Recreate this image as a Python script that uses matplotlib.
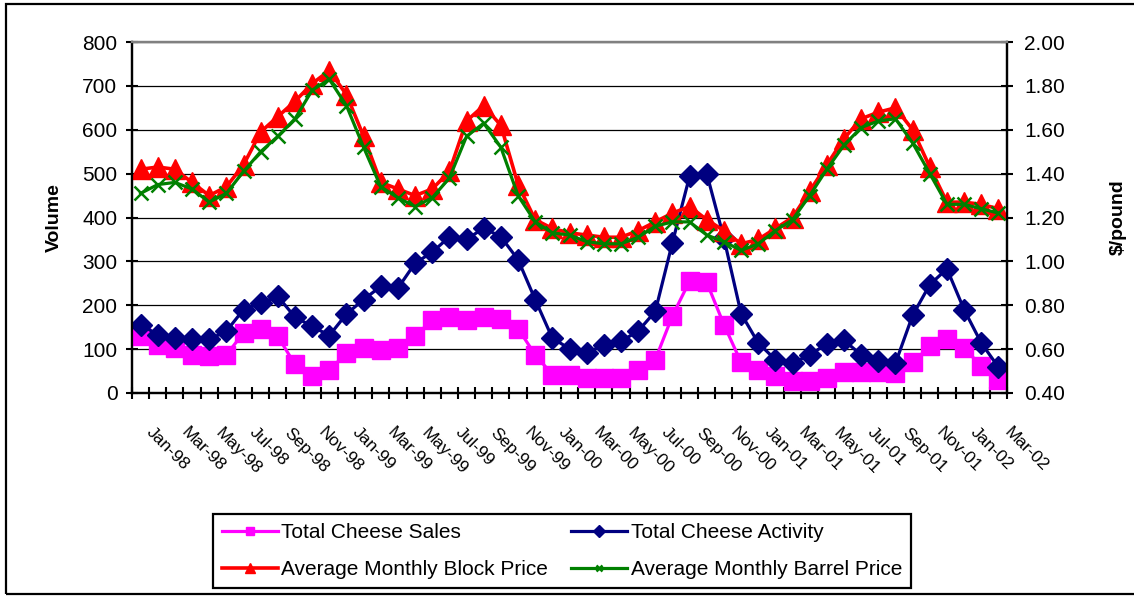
import numpy as np
import matplotlib
matplotlib.use("Agg")
import matplotlib.pyplot as plt
import matplotlib.transforms as mtransforms
from matplotlib.patches import Rectangle

plt.rcParams['font.family'] = ['Liberation Sans', 'DejaVu Sans']

# monthly data, Jan-98 .. Mar-02
tick_labels = ['Jan-98', 'Mar-98', 'May-98', 'Jul-98', 'Sep-98', 'Nov-98',
               'Jan-99', 'Mar-99', 'May-99', 'Jul-99', 'Sep-99', 'Nov-99',
               'Jan-00', 'Mar-00', 'May-00', 'Jul-00', 'Sep-00', 'Nov-00',
               'Jan-01', 'Mar-01', 'May-01', 'Jul-01', 'Sep-01', 'Nov-01',
               'Jan-02', 'Mar-02']

total_sales = [131, 110, 103, 87, 84, 87, 137, 147, 129, 65,
               38, 52, 91, 103, 97, 103, 129, 167, 173, 167,
               173, 169, 147, 87, 42, 42, 34, 34, 34, 53,
               76, 176, 255, 252, 156, 70, 53, 38, 27, 27,
               34, 47, 47, 49, 46, 70, 106, 123, 103, 61, 30]

total_activity = [156, 133, 125, 122, 122, 141, 190, 205, 220, 173,
                  152, 131, 180, 213, 243, 239, 296, 321, 356, 350,
                  376, 356, 304, 213, 125, 101, 91, 110, 118, 141,
                  186, 343, 494, 500, 353, 181, 114, 76, 68, 87,
                  112, 120, 87, 72, 68, 177, 247, 283, 190, 114, 59]

block_price = [1.42, 1.43, 1.42, 1.36, 1.30, 1.34, 1.44, 1.59, 1.66, 1.73,
               1.81, 1.87, 1.76, 1.57, 1.36, 1.33, 1.30, 1.33, 1.41, 1.64,
               1.71, 1.62, 1.35, 1.19, 1.15, 1.13, 1.12, 1.11, 1.11, 1.14,
               1.18, 1.22, 1.25, 1.19, 1.14, 1.08, 1.10, 1.15, 1.20, 1.32,
               1.44, 1.56, 1.65, 1.68, 1.70, 1.60, 1.43, 1.27, 1.27, 1.26, 1.24]

barrel_price = [1.31, 1.35, 1.36, 1.33, 1.27, 1.31, 1.41, 1.50, 1.57, 1.65,
                1.78, 1.83, 1.71, 1.52, 1.34, 1.29, 1.25, 1.29, 1.38, 1.57,
                1.63, 1.52, 1.30, 1.18, 1.13, 1.12, 1.09, 1.08, 1.08, 1.11,
                1.16, 1.18, 1.18, 1.12, 1.09, 1.05, 1.08, 1.14, 1.19, 1.30,
                1.42, 1.53, 1.61, 1.64, 1.65, 1.54, 1.40, 1.26, 1.26, 1.24, 1.22]

x = np.arange(len(total_sales))

fig = plt.figure(figsize=(11.34, 5.98), dpi=100)
ax = fig.add_axes([132/1134, 1 - 393/598, 875/1134, 351/598])
ax2 = ax.twinx()

# volume series
ax.plot(x, total_sales, color='#FF00FF', lw=2.3, marker='s', ms=12.5,
        mec='#FF00FF', mfc='#FF00FF', label='Total Cheese Sales', zorder=3)
ax.plot(x, total_activity, color='#000080', lw=2.3, marker='D', ms=11.5,
        mec='#000080', mfc='#000080', label='Total Cheese Activity', zorder=4)

# price series on secondary axis
ax2.plot(x, block_price, color='#FF0000', lw=2.6, marker='^', ms=15,
         mec='#FF0000', mfc='#FF0000', label='Average Monthly Block Price')
ax2.plot(x, barrel_price, color='#008000', lw=2.3, marker='x', ms=10, mew=1.8,
         label='Average Monthly Barrel Price')

ax.set_xlim(-0.5, len(x) - 0.5)
ax.set_ylim(0, 800)
ax.set_yticks(range(0, 801, 100))
ax2.set_ylim(0.4, 2.0)
ax2.set_yticks(np.arange(0.4, 2.01, 0.2))
ax2.set_yticklabels(['%.2f' % v for v in np.arange(0.4, 2.01, 0.2)])

ax.grid(axis='y', color='black', lw=0.9)
ax.set_axisbelow(True)

for a in (ax, ax2):
    for side in ('left', 'right', 'bottom'):
        a.spines[side].set_linewidth(1.6)
        a.spines[side].set_color('black')
    a.spines['top'].set_color('#808080')
    a.spines['top'].set_linewidth(1.6)

ax.tick_params(axis='y', direction='inout', length=9, width=1.5,
               labelsize=15, pad=6)
ax2.tick_params(axis='y', direction='inout', length=9, width=1.5,
                labelsize=15, pad=8)

# category boundaries get tick marks, labels every other month
ax.set_xticks(np.arange(-0.5, len(x), 1.0), minor=True)
ax.set_xticks(np.arange(0, len(x), 2))
ax.set_xticklabels(tick_labels, rotation=-45, ha='left', va='top',
                   rotation_mode='anchor', fontsize=12.5)
ax.tick_params(axis='x', which='major', length=0, pad=23)
ax.tick_params(axis='x', which='minor', direction='inout', length=8, width=1.5)
offset = mtransforms.ScaledTranslation(14/100, 0, fig.dpi_scale_trans)
for lbl in ax.get_xticklabels():
    lbl.set_transform(lbl.get_transform() + offset)

ax.set_ylabel('Volume', fontsize=14, fontweight='bold')
ax2.set_ylabel('$/pound', fontsize=14, fontweight='bold')
ax.yaxis.set_label_coords(-0.079, 0.5)
ax2.yaxis.set_label_coords(1.117, 0.5)

ax2.set_zorder(ax.get_zorder() + 1)
ax2.patch.set_visible(False)

h1, l1 = ax.get_legend_handles_labels()
h2, l2 = ax2.get_legend_handles_labels()
leg = fig.legend([h1[0], h2[0], h1[1], h2[1]],
                 [l1[0], l2[0], l1[1], l2[1]],
                 ncol=2, loc='center', bbox_to_anchor=(562/1134, 1 - 551/598),
                 fontsize=15, markerscale=0.5, handlelength=2.7,
                 handletextpad=0.15, columnspacing=1.1, labelspacing=0.85,
                 borderpad=0.45, fancybox=False, edgecolor='black',
                 framealpha=1)
leg.get_frame().set_linewidth(1.6)

fig.patches.append(Rectangle((6/1134, 4/598), 1.0, 590/598, transform=fig.transFigure,
                             fill=False, edgecolor='black', lw=1.6))

fig.savefig('out.png', dpi=100)
